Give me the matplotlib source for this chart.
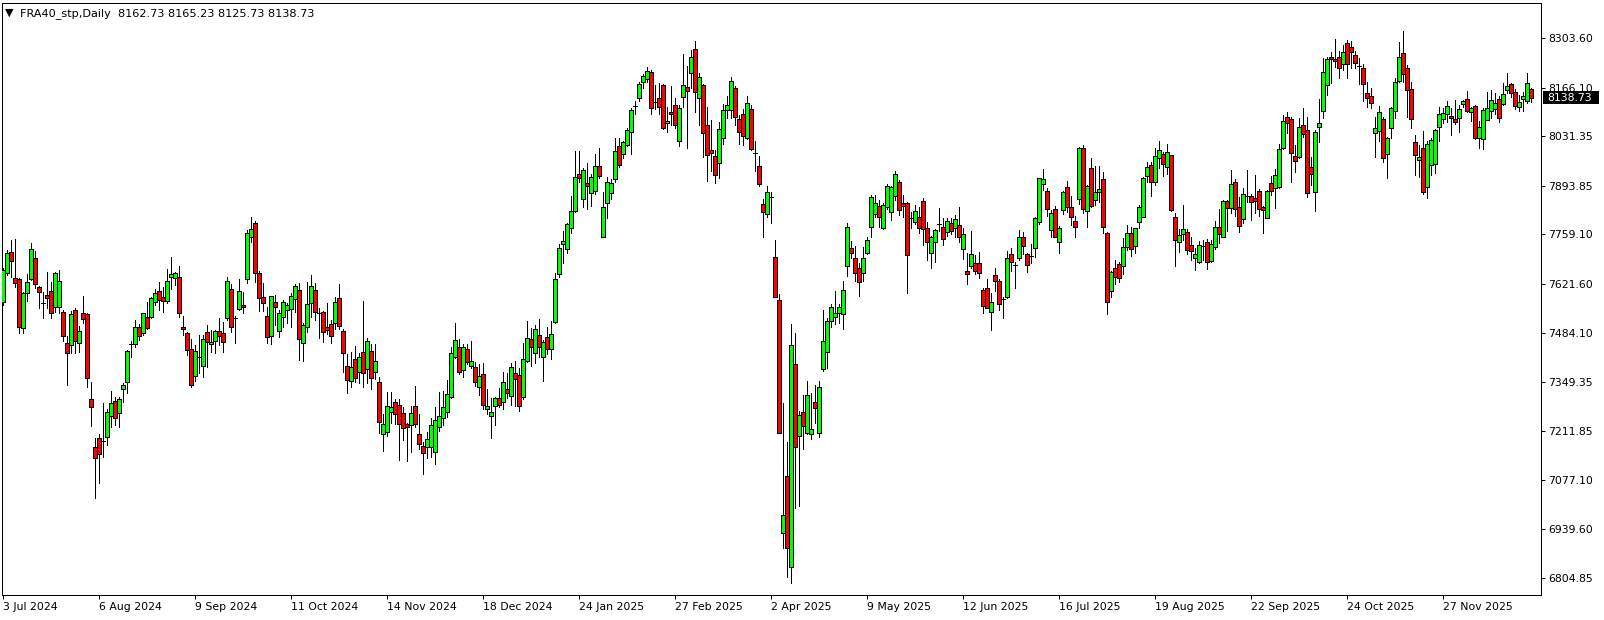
import numpy as np
import matplotlib
matplotlib.use("Agg")
import matplotlib.pyplot as plt
from matplotlib.patches import Rectangle
from matplotlib.transforms import IdentityTransform

symbol = "FRA40_stp,Daily"

opens = [
7571.5,7652.1,7708.6,7636.3,7633.5,7499.3,7594.7,7633.5,7691.9,7613.2,7568.7,7589.1,7600.2,7555.8,7557.6,7542.8,7455.8,7451.1,7547.4,7457.6,
7539.1,7536.3,7300.2,7166.8,7191.9,7183.5,7194.6,7253.9,7296.5,7261.3,7328.0,7349.3,7453.0,7453.0,7502.1,7483.5,7528.0,7529.8,7571.5,7600.2,
7583.5,7574.3,7639.1,7636.3,7639.1,7500.2,7483.5,7439.1,7366.0,7418.8,7393.8,7486.4,7453.0,7463.2,7490.1,7483.6,7525.2,7605.8,7527.1,7551.2,
7561.4,7633.6,7752.1,7789.2,7652.1,7583.6,7531.7,7477.1,7570.6,7491.0,7528.0,7548.4,7550.3,7578.0,7604.0,7455.8,7502.1,7566.9,7604.0,7541.0,
7541.9,7500.2,7508.6,7513.2,7580.8,7490.1,7392.8,7351.2,7412.3,7377.1,7430.8,7383.6,7434.5,7375.2,7347.5,7203.0,7208.6,7266.0,7291.9,7284.5,
7261.4,7231.7,7228.9,7282.7,7203.0,7170.6,7168.8,7166.9,7154.9,7222.5,7247.5,7266.0,7305.8,7417.0,7444.7,7381.8,7439.2,7393.8,7389.2,7333.6,
7369.7,7272.5,7254.9,7282.7,7303.1,7291.9,7329.0,7310.5,7372.5,7367.9,7305.8,7407.7,7466.9,7429.9,7479.0,7418.8,7472.5,7439.2,7516.0,7648.5,
7730.9,7717.0,7775.3,7824.5,7925.4,7856.0,7902.3,7872.7,7880.1,7948.6,7752.3,7844.9,7874.5,7911.5,8004.1,7981.9,8006.9,8044.0,8115.3,8138.4,
8181.0,8189.3,8208.8,8127.3,8136.6,8173.6,8067.1,8097.7,8118.0,8019.0,8141.2,8167.1,8206.0,8273.6,8138.4,8173.6,8062.5,7993.0,7976.4,7956.0,
8025.4,8104.2,8104.2,8166.2,8079.1,8092.1,8027.3,8106.9,7985.6,7949.5,7842.0,7814.2,7861.4,7694.7,7576.2,6928.0,7087.3,6835.4,7397.5,7199.3,
7264.1,7207.7,7203.0,7291.9,7207.7,7384.5,7432.7,7518.8,7528.0,7539.2,7536.4,7671.6,7719.7,7691.9,7664.2,7650.3,7705.8,7778.1,7814.2,7837.3,
7777.1,7835.5,7821.6,7866.0,7903.1,7844.7,7846.6,7804.9,7793.8,7807.7,7851.2,7775.3,7705.8,7738.3,7786.4,7779.9,7764.2,7789.2,7775.3,7784.6,
7717.0,7656.8,7671.6,7678.1,7678.1,7604.0,7608.7,7543.8,7645.7,7629.0,7579.0,7583.6,7703.1,7673.5,7692.0,7750.3,7703.1,7699.4,7719.8,7792.0,
7897.6,7879.0,7770.7,7829.0,7738.3,7826.3,7891.1,7833.7,7795.7,7855.9,7997.6,7823.5,7942.0,7854.0,7877.2,7911.5,7761.5,7602.2,7664.2,7675.3,
7671.6,7724.4,7761.5,7727.2,7792.0,7807.7,7921.7,7951.4,7905.1,7969.9,7981.9,7944.9,7979.1,7806.0,7738.4,7758.8,7766.2,7729.1,7694.0,7681.0,
7726.4,7736.5,7684.7,7722.6,7778.2,7750.4,7851.4,7832.8,7903.2,7833.8,7800.4,7866.2,7865.2,7858.8,7879.1,7833.8,7803.2,7900.4,7888.4,7889.3,
7997.7,8083.8,8078.2,7976.4,7972.7,8062.5,8048.6,7946.7,7875.4,8056.0,8101.4,8173.6,8252.3,8245.8,8250.5,8231.0,8289.4,8278.3,8257.0,8227.3,
8219.9,8150.5,8144.0,8041.2,8045.8,8078.2,7981.0,8053.2,8101.4,8184.7,8261.6,8219.9,8161.6,8016.2,7965.3,7997.7,7891.2,7951.4,7953.2,8057.9,
8079.2,8092.1,8087.5,8078.2,8081.0,8119.9,8133.8,8099.5,8115.3,8025.5,8023.6,8076.4,8101.4,8106.0,8134.7,8119.9,8159.7,8175.9,8154.0,8113.4,
8135.3,8129.8,8162.73]

highs = [
7664.1,7715.0,7742.8,7744.7,7636.3,7599.3,7647.4,7735.4,7713.2,7615.0,7599.3,7653.0,7627.1,7654.9,7659.5,7548.4,7476.1,7544.7,7553.9,7503.9,
7588.2,7539.1,7349.3,7191.9,7203.9,7289.1,7273.3,7323.3,7307.6,7307.6,7344.6,7437.2,7462.2,7520.6,7509.5,7541.0,7571.5,7583.5,7606.7,7627.1,
7611.3,7661.3,7694.7,7654.9,7670.6,7531.7,7488.2,7466.9,7451.2,7478.9,7478.9,7506.7,7492.8,7492.8,7527.1,7516.0,7641.0,7620.6,7531.7,7634.5,
7599.3,7770.6,7807.7,7795.6,7656.7,7622.5,7555.8,7587.3,7590.1,7548.4,7576.2,7568.8,7594.7,7620.6,7624.3,7511.4,7627.1,7645.6,7624.3,7553.0,
7546.5,7566.9,7520.6,7583.6,7620.6,7495.6,7426.2,7432.6,7448.4,7428.0,7574.3,7471.5,7453.9,7453.9,7363.2,7259.5,7319.7,7319.7,7300.3,7300.3,
7279.9,7235.4,7282.7,7337.3,7259.5,7182.7,7208.6,7249.4,7279.9,7321.6,7324.4,7354.0,7446.6,7513.3,7466.9,7454.0,7454.0,7462.3,7403.1,7398.4,
7402.1,7329.0,7303.1,7305.8,7330.8,7375.3,7372.5,7400.3,7406.8,7386.4,7457.7,7517.9,7499.4,7506.8,7523.4,7465.1,7500.3,7517.9,7652.2,7731.8,
7767.9,7791.1,7865.1,7990.3,7990.3,7942.1,7957.8,7925.4,7981.0,7997.7,7875.4,7917.1,7912.5,8027.3,8025.4,8018.0,8055.1,8110.6,8129.2,8181.0,
8203.2,8224.5,8215.3,8173.6,8178.2,8175.5,8113.4,8170.8,8136.6,8118.0,8259.7,8227.3,8270.8,8295.8,8206.0,8175.5,8113.4,8076.4,7993.0,8069.9,
8120.8,8143.0,8196.8,8170.8,8090.3,8106.9,8143.0,8118.0,8018.0,7977.3,7855.9,7892.9,7877.2,7742.9,7592.9,7291.0,7182.6,7509.5,7485.5,7267.8,
7312.3,7352.1,7318.8,7340.1,7352.1,7548.4,7525.3,7564.2,7602.1,7565.1,7629.0,7791.0,7741.0,7726.2,7678.1,7722.5,7750.3,7867.9,7867.9,7854.0,
7844.7,7897.5,7892.9,7934.6,7909.6,7867.9,7849.4,7821.6,7840.1,7835.5,7860.5,7793.8,7754.0,7773.4,7830.9,7803.1,7803.1,7803.1,7812.4,7833.7,
7775.3,7705.9,7767.9,7701.3,7708.7,7608.7,7634.6,7596.6,7666.1,7634.6,7585.5,7713.3,7721.6,7680.9,7770.7,7766.1,7707.7,7730.9,7805.9,7916.1,
7940.2,7886.5,7826.3,7837.4,7781.8,7879.0,7906.8,7865.2,7809.6,8000.3,8006.8,7895.7,7969.8,7948.5,7948.5,7930.9,7766.1,7656.8,7687.4,7682.7,
7747.5,7784.6,7780.0,7777.2,7840.2,7917.0,7960.6,7960.6,7997.7,8018.0,7988.4,8008.8,7979.1,7818.9,7772.7,7840.2,7772.7,7750.4,7719.9,7741.2,
7743.0,7744.9,7743.0,7795.8,7828.2,7854.1,7854.1,7937.5,7911.6,7863.4,7886.5,7937.5,7870.8,7923.6,7883.8,7838.4,7881.9,7921.7,7939.3,8008.8,
8090.3,8099.5,8083.8,8006.9,8081.0,8108.8,8083.8,7974.5,8048.6,8133.8,8247.7,8252.3,8266.2,8301.4,8268.1,8284.7,8298.6,8295.9,8268.1,8247.7,
8232.0,8182.9,8166.2,8085.6,8116.2,8085.6,8030.1,8113.4,8192.1,8294.0,8323.6,8229.2,8182.9,8034.7,8007.0,8045.8,8018.0,8027.3,8051.4,8113.4,
8110.6,8129.2,8110.6,8132.0,8118.1,8132.0,8156.9,8113.4,8118.1,8073.6,8108.8,8155.1,8159.7,8150.5,8144.0,8178.2,8206.0,8179.2,8162.8,8146.3,
8155.1,8206.7,8165.23]

lows = [
7562.2,7645.6,7641.0,7613.2,7483.5,7485.4,7574.3,7631.7,7610.4,7554.8,7525.2,7554.8,7525.2,7543.7,7541.0,7462.2,7340.0,7428.0,7428.0,7432.6,
7511.3,7335.4,7226.1,7025.2,7068.7,7140.9,7173.3,7224.3,7228.9,7222.4,7293.7,7316.9,7418.7,7446.5,7465.0,7478.9,7494.7,7525.2,7562.2,7548.4,
7543.7,7568.7,7605.8,7617.8,7528.0,7478.9,7423.4,7335.4,7352.1,7374.3,7363.2,7389.1,7432.6,7428.0,7451.2,7432.6,7520.6,7488.2,7455.8,7548.4,
7539.1,7622.5,7738.2,7627.1,7546.5,7546.5,7457.7,7453.9,7506.7,7474.3,7500.2,7511.4,7502.1,7543.8,7409.5,7407.6,7488.2,7529.9,7520.6,7471.5,
7460.4,7481.7,7457.7,7494.7,7495.6,7377.1,7316.9,7335.4,7349.3,7346.5,7335.4,7346.5,7328.0,7355.8,7205.8,7157.6,7199.3,7233.6,7231.7,7131.7,
7187.3,7129.9,7154.9,7222.5,7162.3,7091.9,7138.2,7141.0,7119.7,7212.3,7228.9,7252.1,7303.1,7414.2,7370.6,7363.2,7398.4,7386.4,7338.3,7312.3,
7273.4,7259.5,7193.8,7228.9,7279.9,7272.5,7303.1,7284.5,7282.7,7268.8,7301.2,7404.9,7393.8,7402.1,7417.0,7352.1,7426.2,7412.3,7513.3,7639.2,
7679.9,7707.7,7763.3,7821.7,7905.1,7835.6,7829.1,7838.4,7870.8,7914.3,7752.3,7805.0,7856.9,7903.2,7946.7,7971.7,8005.1,7981.0,8092.1,8130.1,
8166.2,8182.9,8092.1,8106.0,8092.1,8051.4,8042.1,8062.5,8053.2,8005.1,8113.4,7999.5,8166.2,8099.5,8062.5,7974.5,7907.8,7935.6,7900.4,7914.3,
8008.8,8082.9,8081.0,8062.5,8008.8,8006.9,8023.6,7993.0,7934.7,7894.0,7752.1,7807.7,7791.0,7583.6,7207.7,6888.2,6807.6,6791.0,6997.5,7003.9,
7161.4,7203.9,7189.1,7233.6,7196.5,7379.9,7386.4,7502.1,7509.5,7513.2,7494.7,7643.8,7693.8,7629.9,7588.2,7629.9,7704.0,7750.3,7807.7,7779.9,
7773.4,7828.1,7798.4,7854.0,7812.3,7807.7,7596.6,7775.3,7787.3,7763.3,7729.0,7687.3,7664.2,7682.7,7767.9,7729.0,7754.0,7759.6,7750.3,7738.3,
7689.2,7620.7,7664.2,7648.5,7638.3,7541.0,7553.1,7492.9,7602.2,7548.5,7527.2,7580.9,7657.7,7608.7,7687.4,7704.0,7653.1,7679.9,7694.8,7786.4,
7881.8,7810.5,7752.2,7752.2,7707.7,7815.1,7821.6,7784.6,7752.2,7842.9,7818.9,7779.9,7833.7,7840.2,7849.4,7763.3,7536.4,7583.6,7620.7,7627.2,
7647.5,7715.1,7698.5,7707.7,7775.3,7805.9,7905.1,7866.2,7895.8,7942.1,7920.8,7925.4,7823.6,7671.7,7710.6,7743.0,7704.1,7687.5,7659.7,7678.2,
7687.5,7661.5,7682.8,7718.0,7733.8,7750.4,7769.0,7818.9,7810.6,7764.3,7789.3,7847.7,7798.6,7817.1,7809.7,7761.5,7803.2,7868.0,7831.0,7886.5,
7994.9,8039.3,7905.1,7932.8,7969.9,8028.2,7863.4,7895.8,7824.5,8016.2,8081.0,8145.8,8178.2,8224.5,8192.1,8215.3,8192.1,8221.8,8221.8,8175.5,
8129.2,8113.4,8108.8,7974.5,8018.0,7960.6,7916.2,8025.5,8082.9,8181.0,8182.9,8085.6,8053.2,7923.6,7919.0,7870.8,7860.6,7923.6,7930.1,8018.0,
8067.1,8071.8,8034.7,8064.4,8044.0,8113.4,8099.5,8074.5,8023.6,7999.5,7995.9,8076.4,8081.0,8092.1,8071.8,8118.1,8152.3,8140.8,8107.9,8102.4,
8102.4,8124.3,8125.73]

closes = [
7659.5,7707.6,7685.4,7622.4,7502.1,7596.5,7625.2,7716.9,7619.7,7599.3,7568.7,7580.8,7539.1,7650.2,7628.9,7477.0,7428.0,7536.3,7463.2,7489.1,
7522.4,7358.5,7279.8,7138.1,7147.4,7183.5,7264.1,7289.1,7247.4,7300.2,7340.0,7434.5,7453.0,7502.1,7476.1,7539.1,7499.3,7580.8,7594.7,7576.1,
7574.3,7628.9,7648.4,7652.1,7541.0,7494.7,7437.2,7340.0,7433.6,7418.8,7466.9,7458.6,7460.4,7490.1,7477.1,7460.4,7628.9,7502.1,7527.1,7601.2,
7555.8,7761.4,7772.5,7652.1,7582.7,7566.9,7474.3,7587.3,7555.8,7539.1,7571.5,7562.3,7587.3,7615.1,7466.9,7506.7,7565.1,7615.1,7543.8,7541.0,
7486.4,7492.8,7477.1,7569.7,7504.9,7428.0,7353.9,7389.1,7358.6,7416.9,7372.5,7462.3,7358.6,7406.7,7236.3,7230.8,7282.7,7278.0,7259.5,7230.8,
7219.7,7224.3,7261.4,7230.8,7175.3,7150.3,7189.2,7229.0,7242.9,7254.0,7278.0,7315.1,7428.1,7465.1,7375.3,7444.7,7403.1,7406.8,7347.5,7365.1,
7284.5,7282.7,7266.0,7303.1,7284.5,7349.4,7317.0,7389.2,7355.8,7282.7,7411.4,7469.7,7446.6,7494.7,7446.6,7458.6,7439.2,7481.8,7633.6,7719.7,
7740.1,7786.4,7823.5,7918.9,7916.2,7937.5,7894.0,7917.1,7949.5,7920.8,7833.8,7903.2,7900.4,7990.3,7951.4,8014.3,8048.6,8104.2,8115.3,8175.5,
8198.6,8212.5,8108.8,8127.3,8111.6,8053.2,8073.6,8092.1,8062.5,8108.8,8173.6,8157.9,8250.5,8153.2,8196.8,8039.3,7979.1,7983.8,7923.6,8050.4,
8104.2,8118.0,8184.7,8085.6,8044.0,8032.9,8122.7,7994.9,7985.6,7897.7,7819.7,7875.3,7861.4,7585.5,7207.7,6978.9,6886.3,7451.2,7168.8,7256.7,
7227.1,7312.3,7216.9,7275.3,7333.6,7462.3,7517.9,7557.7,7539.2,7555.8,7604.0,7778.1,7705.8,7650.3,7627.1,7691.9,7742.9,7863.3,7846.6,7805.8,
7840.1,7892.9,7889.2,7925.3,7826.2,7837.3,7701.2,7804.9,7823.5,7777.1,7772.5,7736.4,7750.3,7770.7,7786.4,7744.7,7796.6,7768.9,7800.3,7750.3,
7758.7,7649.4,7703.1,7657.7,7650.3,7560.5,7554.9,7569.8,7630.0,7564.2,7579.0,7692.0,7680.9,7673.5,7750.3,7727.2,7673.5,7699.4,7803.1,7914.2,
7911.5,7828.1,7817.0,7752.2,7775.3,7875.3,7833.7,7805.9,7780.0,7997.6,7828.1,7892.9,7837.4,7877.2,7883.7,7778.1,7571.6,7653.1,7641.1,7636.4,
7722.5,7761.5,7717.0,7775.3,7833.7,7914.2,7946.7,7903.2,7976.4,7993.0,7954.1,7986.6,7826.4,7743.0,7756.9,7772.7,7715.2,7713.4,7703.2,7729.1,
7726.4,7681.0,7731.9,7780.1,7759.7,7851.4,7831.0,7898.6,7828.2,7782.8,7870.8,7866.2,7849.5,7852.3,7828.2,7826.4,7879.1,7880.1,7923.6,7994.9,
8073.6,8069.0,7983.8,7963.4,8056.0,8037.5,7872.7,7925.4,8044.0,8067.1,8208.8,8244.9,8244.9,8241.2,8219.9,8264.4,8231.0,8266.2,8233.8,8227.3,
8175.5,8138.4,8124.5,8053.2,8097.7,7969.9,8025.5,8108.8,8181.0,8252.3,8203.3,8159.7,8078.2,7979.2,7974.5,7877.3,8008.8,8020.8,8048.6,8092.1,
8094.9,8115.3,8081.0,8071.8,8106.0,8129.2,8102.3,8108.8,8027.3,8056.0,8104.2,8108.8,8131.9,8122.7,8081.0,8147.7,8170.8,8151.8,8115.5,8126.5,
8144.1,8179.2,8138.73]

date_labels = ["3 Jul 2024", "6 Aug 2024", "9 Sep 2024", "11 Oct 2024", "14 Nov 2024",
               "18 Dec 2024", "24 Jan 2025", "27 Feb 2025", "2 Apr 2025", "9 May 2025",
               "12 Jun 2025", "16 Jul 2025", "19 Aug 2025", "22 Sep 2025", "24 Oct 2025",
               "27 Nov 2025"]
label_step = 24
price_ticks = [8303.60, 8166.10, 8031.35, 7893.85, 7759.10, 7621.60,
               7484.10, 7349.35, 7211.85, 7077.10, 6939.60, 6804.85]

o = np.array(opens); h = np.array(highs); l = np.array(lows); c = np.array(closes)
n = len(o)
x = np.arange(n)

W, H = 1604, 620
fig = plt.figure(figsize=(W / 100, H / 100), dpi=100)
fig.patch.set_facecolor("white")
left_px, right_px, top_px, bottom_px = 2, 1541, 3, 595
ax = fig.add_axes([left_px / W, 1 - bottom_px / H, (right_px - left_px) / W, (bottom_px - top_px) / H])
ax.set_facecolor("white")

px = 0.72  # one pixel in points
up = c >= o
body_colors = np.where(up, "#00ff00", "#ff0000")
ax.vlines(x, l, h, color="black", linewidth=px, antialiased=False, zorder=2)
ax.bar(x, c - o, bottom=o, width=0.8, color=body_colors, edgecolor="black",
       linewidth=px, antialiased=False, zorder=3)

ax.set_xlim(-0.25, 384.5)
ax.set_ylim(6756.3, 8401.4)

fs = 7.8
ax.set_xticks(x[::label_step][:len(date_labels)], date_labels)
for t in ax.get_xticklabels():
    t.set_ha("left")
ax.yaxis.tick_right()
ax.set_yticks(price_ticks, [f"{v:.2f}" for v in price_ticks])
ax.tick_params(axis="x", length=4 * px, width=px, pad=2, labelsize=fs, colors="black")
ax.tick_params(axis="y", length=4 * px, width=px, pad=2, labelsize=fs, colors="black")
for s in ax.spines.values():
    s.set_color("black")
    s.set_linewidth(px)

fig.canvas.draw()
# current price marker on the price scale
x_axis_right = ax.transAxes.transform((1, 0))[0]
y_last = ax.transData.transform((0, c[-1]))[1]
fig.patches.append(Rectangle((x_axis_right + 2, y_last - 6.5), 56, 13, transform=IdentityTransform(),
                             facecolor="black", edgecolor="none", zorder=5))
fig.text(x_axis_right + 6, y_last, f"{c[-1]:.2f}", transform=IdentityTransform(), color="white",
         fontsize=fs, va="center", ha="left", zorder=6)

# header
fig.text(5, H - 13.0, "\u25bc", transform=IdentityTransform(), fontsize=8, va="center", ha="left",
         color="black", zorder=6)
fig.text(20, H - 13.3, f"{symbol}  {o[-1]:.2f} {h[-1]:.2f} {l[-1]:.2f} {c[-1]:.2f}",
         transform=IdentityTransform(), fontsize=8.1, va="center", ha="left", color="black", zorder=6,
         bbox=dict(boxstyle="square,pad=0.3", facecolor="white", edgecolor="none"))

fig.savefig("out.png", dpi=100, facecolor="white")
